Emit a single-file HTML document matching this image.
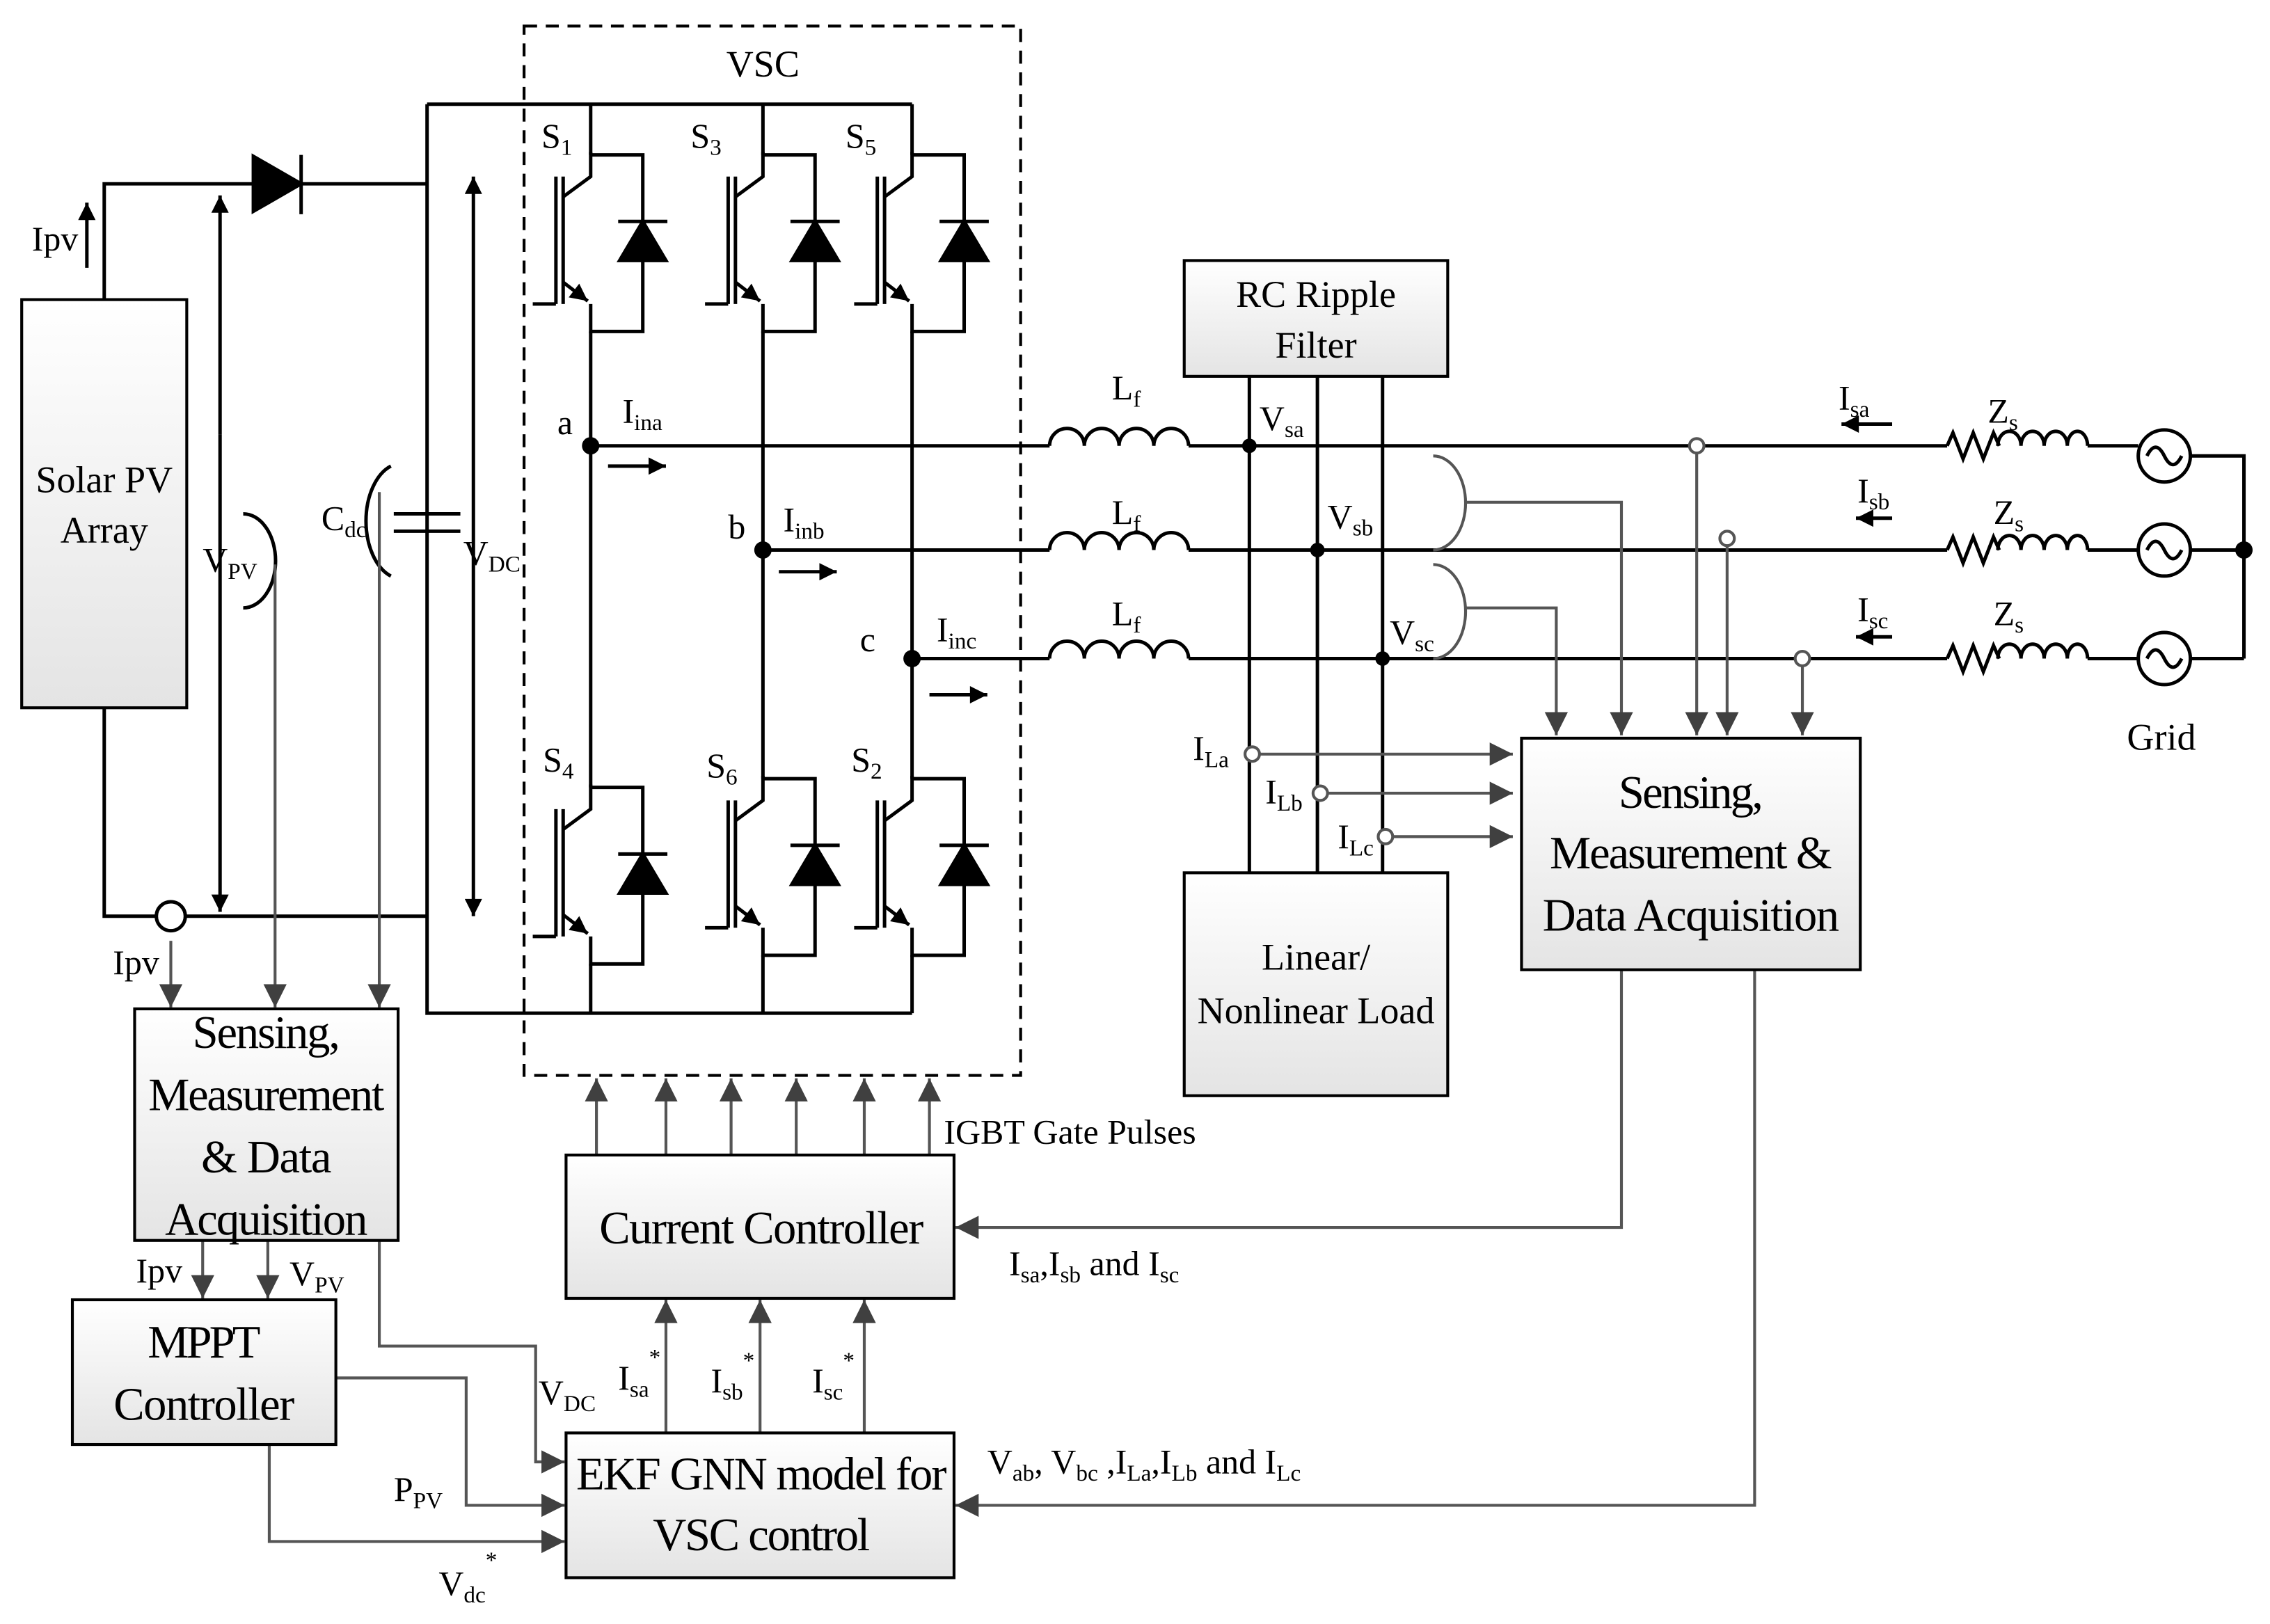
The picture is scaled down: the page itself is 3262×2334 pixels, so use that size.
<!DOCTYPE html>
<html><head><meta charset="utf-8"><style>
html,body{margin:0;padding:0;background:#fff}
svg{display:block}
text{font-family:"Liberation Serif",serif;fill:#000}
</style></head><body>
<svg width="3262" height="2334" viewBox="0 0 1568 1122" preserveAspectRatio="none" xmlns="http://www.w3.org/2000/svg">
<defs>
<linearGradient id="g" x1="0" y1="0" x2="0" y2="1"><stop offset="0" stop-color="#fff"/><stop offset="1" stop-color="#e4e4e4"/></linearGradient>
<marker id="ah" viewBox="0 0 10 10" refX="10" refY="5" markerWidth="16" markerHeight="22" markerUnits="userSpaceOnUse" orient="auto"><path d="M0,0L10,5L0,10z" fill="#404040"/></marker>
<marker id="ak" viewBox="0 0 10 10" refX="10" refY="5" markerWidth="14" markerHeight="12" markerUnits="userSpaceOnUse" orient="auto"><path d="M0,0L10,5L0,10z" fill="#000"/></marker>
<g id="sw" stroke="#000" stroke-width="2.4" fill="none">
<path d="M0,-2V15L-19,29"/>
<path d="M0,0H36V122H0V103"/>
<path d="M-19,15V103M-24,15V103M-40,103H-24"/>
<path d="M-19,88L-2,101" marker-end="url(#ak)"/>
<path d="M19,46H53" />
<path d="M36,46L20,73H52Z" fill="#000"/>
</g>
</defs>
<g stroke="#000" stroke-width="2.4" fill="none">
<path d="M72,207V127H175M208,127H295M72,489V633H108M128,633H295"/>
<path d="M175,108L208,127L175,146Z" fill="#000"/><path d="M208,107V148"/>
<circle cx="118" cy="633" r="10"/>
<path d="M60,185V140" marker-end="url(#ak)"/>
<path d="M295,72V700H630M295,72H630"/>
<path d="M272,355H318M272,367H318"/>
<path d="M270,322A25,40 0 0 0 270,398"/>
<path d="M408,72V107M408,229V544M527,72V107M527,229V538M630,72V107M630,229V538M408,666V700M527,660V700M630,660V700"/>
<path d="M408,308H725M527,380H725M630,455H725"/>
<path d="M725,308a12,12 0 0 1 24,0a12,12 0 0 1 24,0a12,12 0 0 1 24,0a12,12 0 0 1 24,0"/>
<path d="M725,380a12,12 0 0 1 24,0a12,12 0 0 1 24,0a12,12 0 0 1 24,0a12,12 0 0 1 24,0"/>
<path d="M725,455a12,12 0 0 1 24,0a12,12 0 0 1 24,0a12,12 0 0 1 24,0a12,12 0 0 1 24,0"/>
<path d="M821,308H1345M821,380H1345M821,455H1345"/>
<path d="M1345,308l4,-9l7,18l7,-18l7,18l7,-18l4,9M1345,380l4,-9l7,18l7,-18l7,18l7,-18l4,9M1345,455l4,-9l7,18l7,-18l7,18l7,-18l4,9"/>
<path d="M1380,308a8,10 0 0 1 16,0a8,10 0 0 1 16,0a8,10 0 0 1 16,0a7,10 0 0 1 14,0M1380,380a8,10 0 0 1 16,0a8,10 0 0 1 16,0a8,10 0 0 1 16,0a7,10 0 0 1 14,0M1380,455a8,10 0 0 1 16,0a8,10 0 0 1 16,0a8,10 0 0 1 16,0a7,10 0 0 1 14,0"/>
<path d="M1442,308H1477M1442,380H1477M1442,455H1477M1513,315H1550V455M1513,380H1550M1513,455H1550"/>
<circle cx="1495" cy="315" r="18"/><circle cx="1495" cy="380" r="18"/><circle cx="1495" cy="455" r="18"/>
<path d="M1483,315q6,-12 12,0t12,0M1483,380q6,-12 12,0t12,0M1483,455q6,-12 12,0t12,0"/>
<path d="M863,260V603M910,260V603M955,260V603"/>
<path d="M420,322H460" marker-end="url(#ak)"/>
<path d="M538,395H578" marker-end="url(#ak)"/>
<path d="M642,480H682" marker-end="url(#ak)"/>
<path d="M1307,293H1272" marker-end="url(#ak)"/>
<path d="M1307,358H1282" marker-end="url(#ak)"/>
<path d="M1307,440H1282" marker-end="url(#ak)"/>
<path d="M152,300V135" marker-end="url(#ak)"/><path d="M152,300V630" marker-end="url(#ak)"/>
<path d="M327,380V122" marker-end="url(#ak)"/><path d="M327,380V633" marker-end="url(#ak)"/>
<path d="M168,355A22,32 0 0 1 168,420"/>
</g>
<g stroke="#555" stroke-width="2" fill="none">
<path d="M990,315A22,32 0 0 1 990,380"/>
<path d="M990,390A22,32 0 0 1 990,455"/>
<path d="M1012,347H1120V508" marker-end="url(#ah)"/>
<path d="M1012,420H1075V508" marker-end="url(#ah)"/>
<path d="M1172,308V508" marker-end="url(#ah)"/>
<path d="M1193,372V508" marker-end="url(#ah)"/>
<path d="M1245,455V508" marker-end="url(#ah)"/>
<path d="M870,521H1045" marker-end="url(#ah)"/>
<path d="M917,548H1045" marker-end="url(#ah)"/>
<path d="M962,578H1045" marker-end="url(#ah)"/>
<path d="M1120,670V848H660" marker-end="url(#ah)"/>
<path d="M1212,670V1040H660" marker-end="url(#ah)"/>
<path d="M412,798V745" marker-end="url(#ah)"/>
<path d="M460,798V745" marker-end="url(#ah)"/>
<path d="M505,798V745" marker-end="url(#ah)"/>
<path d="M550,798V745" marker-end="url(#ah)"/>
<path d="M597,798V745" marker-end="url(#ah)"/>
<path d="M642,798V745" marker-end="url(#ah)"/>
<path d="M460,990V898" marker-end="url(#ah)"/>
<path d="M525,990V898" marker-end="url(#ah)"/>
<path d="M597,990V898" marker-end="url(#ah)"/>
<path d="M118,650V696" marker-end="url(#ah)"/>
<path d="M190,390V696" marker-end="url(#ah)"/>
<path d="M262,340V696" marker-end="url(#ah)"/>
<path d="M140,857V897" marker-end="url(#ah)"/>
<path d="M185,857V897" marker-end="url(#ah)"/>
<path d="M262,857V930H370V1010H390" marker-end="url(#ah)"/>
<path d="M232,952H322V1040H390" marker-end="url(#ah)"/>
<path d="M186,998V1065H390" marker-end="url(#ah)"/>
</g>
<circle cx="408" cy="308" r="6"/><circle cx="527" cy="380" r="6"/><circle cx="630" cy="455" r="6"/>
<circle cx="863" cy="308" r="5"/><circle cx="910" cy="380" r="5"/><circle cx="955" cy="455" r="5"/><circle cx="1550" cy="380" r="6"/>
<use href="#sw" x="408" y="107"/><use href="#sw" x="527" y="107"/><use href="#sw" x="630" y="107"/>
<use href="#sw" x="408" y="544"/><use href="#sw" x="527" y="538"/><use href="#sw" x="630" y="538"/>
<rect x="362" y="18" width="343" height="725" fill="none" stroke="#000" stroke-width="2" stroke-dasharray="9,6"/>
<g fill="#fff" stroke="#555" stroke-width="2">
<circle cx="1172" cy="308" r="5"/><circle cx="1193" cy="372" r="5"/><circle cx="1245" cy="455" r="5"/>
<circle cx="865" cy="521" r="5"/><circle cx="912" cy="548" r="5"/><circle cx="957" cy="578" r="5"/>
</g>
<g fill="url(#g)" stroke="#000" stroke-width="2">
<rect x="15" y="207" width="114" height="282"/>
<rect x="818" y="180" width="182" height="80"/>
<rect x="818" y="603" width="182" height="154"/>
<rect x="1051" y="510" width="234" height="160"/>
<rect x="93" y="697" width="182" height="160"/>
<rect x="50" y="898" width="182" height="100"/>
<rect x="391" y="798" width="268" height="99"/>
<rect x="391" y="990" width="268" height="100"/>
</g>
<g font-size="26" text-anchor="middle">
<text x="72" y="340">Solar PV</text><text x="72" y="375">Array</text>
<text x="909" y="212">RC Ripple</text><text x="909" y="247">Filter</text>
<text x="909" y="670">Linear/</text><text x="909" y="707">Nonlinear Load</text>
<text x="527" y="53">VSC</text>
<text x="1493" y="518">Grid</text>
</g>
<g font-size="32" text-anchor="middle">
<text x="1168" y="558" textLength="100">Sensing,</text>
<text x="1168" y="600" textLength="195">Measurement &amp;</text>
<text x="1168" y="643" textLength="205">Data Acquisition</text>
<text x="184" y="724" textLength="102">Sensing,</text>
<text x="184" y="767" textLength="163">Measurement</text>
<text x="184" y="810" textLength="90">&amp; Data</text>
<text x="184" y="853" textLength="140">Acquisition</text>
<text x="141" y="938" textLength="78">MPPT</text>
<text x="141" y="981" textLength="125">Controller</text>
<text x="526" y="859" textLength="224">Current Controller</text>
<text x="526" y="1029" textLength="256">EKF GNN model for</text>
<text x="526" y="1071" textLength="150">VSC control</text>
</g>
<g font-size="24">
<text x="374" y="102">S<tspan font-size="16" dy="5">1</tspan></text>
<text x="477" y="102">S<tspan font-size="16" dy="5">3</tspan></text>
<text x="584" y="102">S<tspan font-size="16" dy="5">5</tspan></text>
<text x="375" y="533">S<tspan font-size="16" dy="5">4</tspan></text>
<text x="488" y="537">S<tspan font-size="16" dy="5">6</tspan></text>
<text x="588" y="533">S<tspan font-size="16" dy="5">2</tspan></text>
<text x="385" y="300">a</text><text x="503" y="372">b</text><text x="594" y="450">c</text>
<text x="430" y="292">I<tspan font-size="16" dy="5">ina</tspan></text>
<text x="541" y="367">I<tspan font-size="16" dy="5">inb</tspan></text>
<text x="647" y="443">I<tspan font-size="16" dy="5">inc</tspan></text>
<text x="768" y="276">L<tspan font-size="16" dy="5">f</tspan></text>
<text x="768" y="362">L<tspan font-size="16" dy="5">f</tspan></text>
<text x="768" y="432">L<tspan font-size="16" dy="5">f</tspan></text>
<text x="870" y="297">V<tspan font-size="16" dy="5">sa</tspan></text>
<text x="917" y="365">V<tspan font-size="16" dy="5">sb</tspan></text>
<text x="960" y="445">V<tspan font-size="16" dy="5">sc</tspan></text>
<text x="1270" y="283">I<tspan font-size="16" dy="5">sa</tspan></text>
<text x="1283" y="347">I<tspan font-size="16" dy="5">sb</tspan></text>
<text x="1283" y="429">I<tspan font-size="16" dy="5">sc</tspan></text>
<text x="1373" y="292">Z<tspan font-size="16" dy="5">s</tspan></text>
<text x="1377" y="362">Z<tspan font-size="16" dy="5">s</tspan></text>
<text x="1377" y="432">Z<tspan font-size="16" dy="5">s</tspan></text>
<text x="824" y="525">I<tspan font-size="16" dy="5">La</tspan></text>
<text x="874" y="555">I<tspan font-size="16" dy="5">Lb</tspan></text>
<text x="924" y="586">I<tspan font-size="16" dy="5">Lc</tspan></text>
<text x="22" y="173">Ipv</text>
<text x="78" y="673">Ipv</text>
<text x="140" y="395">V<tspan font-size="16" dy="5">PV</tspan></text>
<text x="222" y="366">C<tspan font-size="16" dy="5">dc</tspan></text>
<text x="320" y="390">V<tspan font-size="16" dy="5">DC</tspan></text>
<text x="94" y="886">Ipv</text>
<text x="200" y="888">V<tspan font-size="16" dy="5">PV</tspan></text>
<text x="372" y="970">V<tspan font-size="16" dy="5">DC</tspan></text>
<text x="272" y="1037">P<tspan font-size="16" dy="5">PV</tspan></text>
<text x="303" y="1102">V<tspan font-size="16" dy="5">dc</tspan><tspan font-size="16" dy="-24">*</tspan></text>
<text x="427" y="960">I<tspan font-size="16" dy="5">sa</tspan><tspan font-size="16" dy="-22">*</tspan></text>
<text x="491" y="962">I<tspan font-size="16" dy="5">sb</tspan><tspan font-size="16" dy="-22">*</tspan></text>
<text x="561" y="962">I<tspan font-size="16" dy="5">sc</tspan><tspan font-size="16" dy="-22">*</tspan></text>
<text x="652" y="790">IGBT Gate Pulses</text>
<text x="697" y="881">I<tspan font-size="16" dy="5">sa</tspan><tspan dy="-5">,I</tspan><tspan font-size="16" dy="5">sb</tspan><tspan dy="-5"> and I</tspan><tspan font-size="16" dy="5">sc</tspan></text>
<text x="682" y="1018">V<tspan font-size="16" dy="5">ab</tspan><tspan dy="-5">, V</tspan><tspan font-size="16" dy="5">bc</tspan><tspan dy="-5"> ,I</tspan><tspan font-size="16" dy="5">La</tspan><tspan dy="-5">,I</tspan><tspan font-size="16" dy="5">Lb</tspan><tspan dy="-5"> and I</tspan><tspan font-size="16" dy="5">Lc</tspan></text>
</g>
</svg>
</body></html>
